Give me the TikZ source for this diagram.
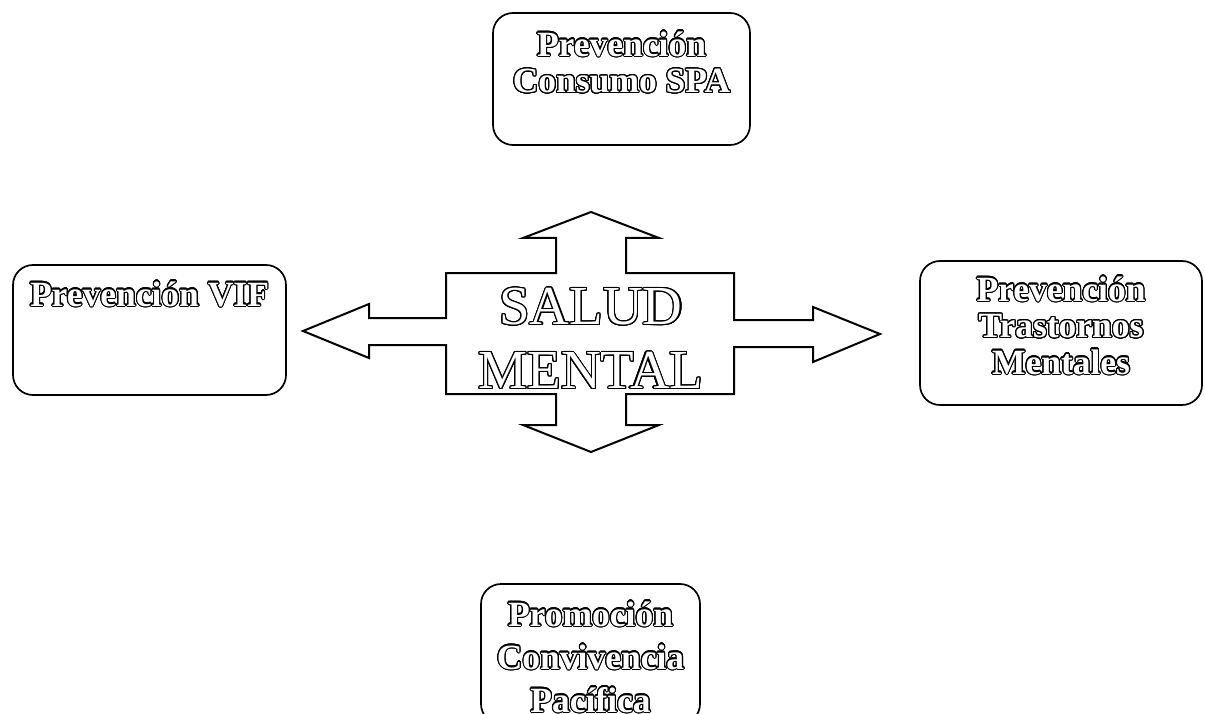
\documentclass[tikz,border=0pt]{standalone}
\usepackage{fontspec}
\setmainfont{Liberation Serif}
\usepackage{contour}
\usetikzlibrary{positioning}
\contourlength{1.1pt}
\contournumber{24}
\newcommand{\hollow}[1]{\contour{black}{#1}}

\begin{document}
\begin{tikzpicture}[x=1pt, y=-1pt,
  tema/.style={draw, line width=1.7pt, rounded corners=20pt, inner sep=0pt},
  tematxt/.style={text=white, align=center, inner sep=0pt,
    font=\bfseries\fontsize{35.5}{36.5}\selectfont},
  centro/.style={text=white, align=center, inner sep=0pt,
    font=\fontsize{55}{64}\selectfont}]
  \clip (0,0) rectangle (1205,714);
  \useasboundingbox (0,0) rectangle (1205,714);
  % Boxes
  \node[tema, minimum width=257pt, minimum height=132pt] (spa) at (621.5,79) {};
  \node[tema, minimum width=273pt, minimum height=130pt] (vif) at (149.5,330) {};
  \node[tema, minimum width=282pt, minimum height=144pt] (tm) at (1061,333) {};
  \node[tema, minimum width=219pt, minimum height=140pt] (cp) at (590.5,654) {};
  \node[tematxt, below=19pt of spa.north] (spatxt)
       {\hollow{Prevención}\\\hollow{Consumo SPA}};
  \node[tematxt, below=17pt of vif.north] (viftxt) {\hollow{Prevención VIF}};
  \node[tematxt, below=16pt of tm.north] (tmtxt)
       {\hollow{Prevención}\\\hollow{Trastornos}\\\hollow{Mentales}};
  \node[tematxt, below=18pt of cp.north, font=\bfseries\fontsize{35.5}{43}\selectfont] (cptxt)
       {\hollow{Promoción}\\\hollow{Convivencia}\\\hollow{Pacífica}};
  % The cross of arrows
  \draw[line width=2pt, line join=miter]
    (591,212) -- (659,238) -- (626,238) -- (626,273) -- (734,273)
    -- (734,320) -- (813,320) -- (813,307) -- (880,334) -- (813,362)
    -- (813,347) -- (734,347) -- (734,394) -- (626,394) -- (626,425)
    -- (659,425) -- (591,452) -- (523,425) -- (556,425) -- (556,394)
    -- (446,394) -- (446,345) -- (369,345) -- (369,358) -- (303,331)
    -- (369,304) -- (369,318) -- (446,318) -- (446,273) -- (556,273)
    -- (556,238) -- (523,238) -- cycle;
  \node[centro] (salud) at (591,339) {\hollow{SALUD}\\\hollow{MENTAL}};
\end{tikzpicture}
\end{document}
